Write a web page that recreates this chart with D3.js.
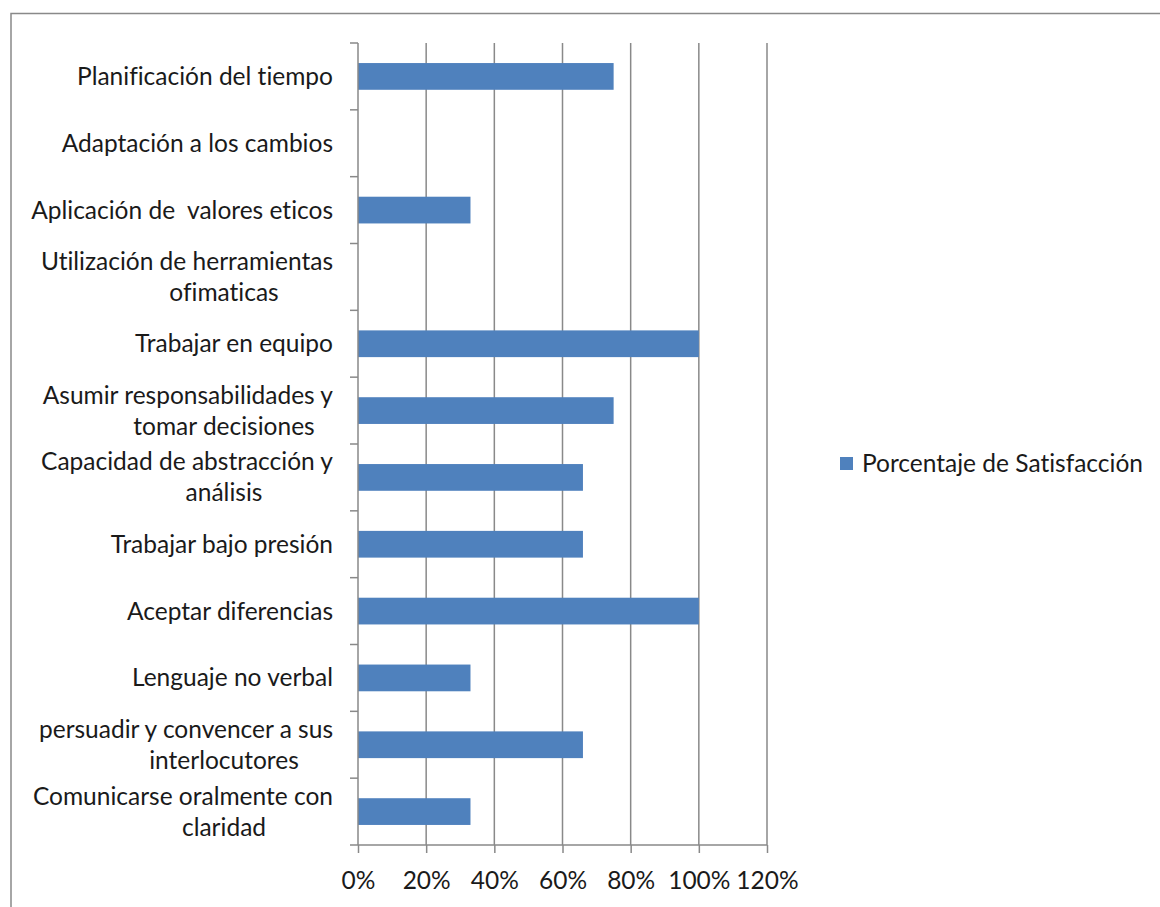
<!DOCTYPE html>
<html>
<head>
<meta charset="utf-8">
<script src="https://cdn.jsdelivr.net/npm/d3@7"></script>
<style>
  body { margin: 0; background: #fff; }
  text { font-family: Lato, "Open Sans", sans-serif; fill: #1a1a1a; font-variant-ligatures: none; }
</style>
</head>
<body>
<div id="chart"></div>
<script>
'use strict';

// categories top to bottom, each entry = wrapped lines
var categories = [
    ['Planificación del tiempo'],
    ['Adaptación a los cambios'],
    ['Aplicación de  valores eticos'],
    ['Utilización de herramientas', 'ofimaticas'],
    ['Trabajar en equipo'],
    ['Asumir responsabilidades y', 'tomar decisiones'],
    ['Capacidad de abstracción y', 'análisis'],
    ['Trabajar bajo presión'],
    ['Aceptar diferencias'],
    ['Lenguaje no verbal'],
    ['persuadir y convencer a sus', 'interlocutores'],
    ['Comunicarse oralmente con', 'claridad']
];
var satisfaccion = [0.75, 0, 0.33, 0, 1.0, 0.75, 0.66, 0.66, 1.0, 0.33, 0.66, 0.33];
var xTicks = [0, 0.2, 0.4, 0.6, 0.8, 1.0, 1.2];
var seriesName = 'Porcentaje de Satisfacción';

var W = 1160, H = 907;
var pLeft = 358, pRight = 767, pTop = 43, pBottom = 845;
var grey = '#898989';
var blue = '#4f81bd';
var fs = '24.5px';

var svg = d3.select('#chart').append('svg')
    .attr('width', W)
    .attr('height', H);

// chart border (runs off the right and bottom edge)
svg.append('rect')
    .attr('x', 11).attr('y', 13.5)
    .attr('width', W + 20).attr('height', H + 20)
    .attr('fill', 'none')
    .attr('stroke', grey)
    .attr('stroke-width', 1.5);

var x = d3.scaleLinear().domain([0, 1.2]).range([pLeft, pRight]);
var y = d3.scaleBand()
    .domain(d3.range(categories.length))
    .range([pTop, pBottom])
    .paddingInner(0.6)
    .paddingOuter(0.3);
var step = y.step();

// vertical gridlines
svg.append('g').selectAll('line')
    .data(xTicks.slice(1))
    .enter().append('line')
        .attr('x1', function(d){ return x(d); })
        .attr('x2', function(d){ return x(d); })
        .attr('y1', pTop).attr('y2', pBottom)
        .attr('stroke', grey)
        .attr('stroke-width', 1.5);

// bars
svg.append('g').selectAll('rect')
    .data(satisfaccion)
    .enter().append('rect')
        .attr('x', x(0))
        .attr('y', function(d, i){ return y(i); })
        .attr('width', function(d){ return x(d) - x(0); })
        .attr('height', y.bandwidth())
        .attr('fill', blue);

// x axis
var xAxis = svg.append('g')
    .attr('transform', 'translate(0,' + pBottom + ')')
    .call(d3.axisBottom(x).tickValues(xTicks).tickFormat(d3.format('.0%')).tickSizeInner(8).tickSizeOuter(0));
xAxis.select('.domain').remove();
xAxis.append('line')
    .attr('x1', pLeft - 8).attr('x2', pRight)
    .attr('stroke', grey).attr('stroke-width', 1.5);
xAxis.selectAll('.tick line').attr('stroke', grey).attr('stroke-width', 1.5);
xAxis.selectAll('.tick text')
    .attr('y', 35)
    .attr('dy', '0.35em')
    .style('font-size', fs)
    .style('font-family', 'Lato, sans-serif')
    .attr('fill', '#1a1a1a');

// y axis line and ticks at category boundaries
var yAxis = svg.append('g');
yAxis.append('line')
    .attr('x1', pLeft).attr('x2', pLeft)
    .attr('y1', pTop).attr('y2', pBottom)
    .attr('stroke', grey).attr('stroke-width', 1.5);
yAxis.selectAll('line.tk')
    .data(d3.range(categories.length))
    .enter().append('line')
        .attr('class', 'tk')
        .attr('x1', pLeft - 8).attr('x2', pLeft)
        .attr('y1', function(d){ return pTop + d * step; })
        .attr('y2', function(d){ return pTop + d * step; })
        .attr('stroke', grey).attr('stroke-width', 1.5);

// category labels
var lineGap = 31;
var labels = yAxis.selectAll('g.lab')
    .data(categories)
    .enter().append('g')
        .attr('class', 'lab')
        .attr('transform', function(d, i){ return 'translate(0,' + (y(i) + y.bandwidth() / 2) + ')'; });
labels.each(function(lines){
    var g = d3.select(this);
    var y0 = -(lines.length - 1) * lineGap / 2;
    lines.forEach(function(t, k){
        g.append('text')
            .attr('x', k === 0 ? pLeft - 25 : pLeft - 134)
            .attr('y', y0 + k * lineGap)
            .attr('dy', '0.35em')
            .attr('text-anchor', k === 0 ? 'end' : 'middle')
            .style('font-size', fs)
            .style('white-space', 'pre')
            .text(t);
    });
});

// legend
var legend = svg.append('g').attr('transform', 'translate(840,463)');
legend.append('rect')
    .attr('x', 0).attr('y', -6)
    .attr('width', 13).attr('height', 13)
    .attr('fill', blue);
legend.append('text')
    .attr('x', 22).attr('y', 0)
    .attr('dy', '0.35em')
    .style('font-size', fs)
    .text(seriesName);
</script>
</body>
</html>
